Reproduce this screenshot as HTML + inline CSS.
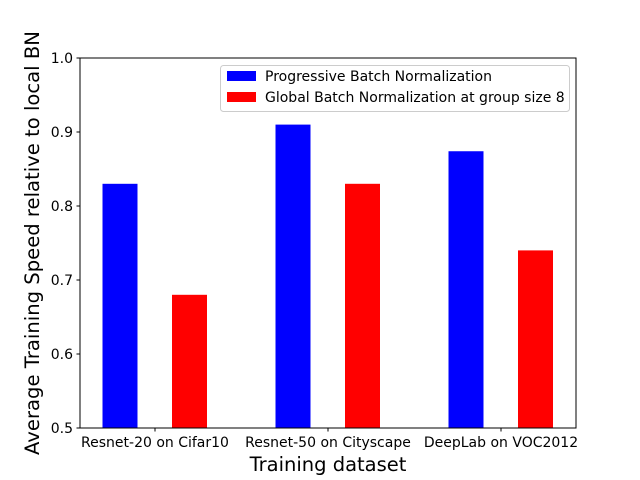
<!DOCTYPE html>
<html><head><meta charset="utf-8"><style>
body{margin:0;background:#fff;}
svg{display:block;font-family:"DejaVu Sans","Liberation Sans",sans-serif;}
</style></head><body>
<svg id="chart" width="640" height="480">
<rect x="0" y="0" width="640" height="480" fill="#fff"/>
<g id="marks"></g>
<rect x="80" y="58" width="496" height="370" fill="none" stroke="#000" stroke-width="1"/>
<g id="axes"></g>
<text x="328" y="471" font-size="19.5" text-anchor="middle">Training dataset</text>
<text transform="translate(39,243) rotate(-90)" font-size="19.6" text-anchor="middle">Average Training Speed relative to local BN</text>
<g>
<rect x="220.5" y="65.5" width="349" height="46" rx="3" fill="#fff" fill-opacity="0.8" stroke="#ccc"/>
<g>
<rect x="227" y="71" width="29" height="10" fill="#0000ff"/>
<text x="265" y="81" font-size="14">Progressive Batch Normalization</text>
</g>
<g>
<rect x="227" y="92" width="29" height="10" fill="#ff0000"/>
<text x="265" y="102" font-size="14">Global Batch Normalization at group size 8</text>
</g>
</g>
</svg>
<script>
const categories = ["Resnet-20 on Cifar10", "Resnet-50 on Cityscape", "DeepLab on VOC2012"];
const progressiveValues = [0.83, 0.91, 0.874];
const globalValues = [0.68, 0.83, 0.74];
const yTicks = [0.5, 0.6, 0.7, 0.8, 0.9, 1.0];
const yTickLabels = ["0.5", "0.6", "0.7", "0.8", "0.9", "1.0"];

const NS = "http://www.w3.org/2000/svg";
function y(v){ return 428 - (v - 0.5) / 0.5 * 370; }
function x(i){ return 155 + 173 * i; }
const barW = 35;
const marks = document.getElementById('marks');
const axes = document.getElementById('axes');
function mk(tag, attrs, parent){
  const el = document.createElementNS(NS, tag);
  for (const k in attrs) el.setAttribute(k, attrs[k]);
  parent.appendChild(el);
  return el;
}
categories.forEach((c, i) => {
  const b = mk('rect', {x: x(i) - 35 - barW/2, y: y(progressiveValues[i]), width: barW, height: 428 - y(progressiveValues[i]), fill: '#0000ff'}, marks);
  
  
  const r = mk('rect', {x: x(i) + 34.5 - barW/2, y: y(globalValues[i]), width: barW, height: 428 - y(globalValues[i]), fill: '#ff0000'}, marks);
  
  
  const t = mk('line', {x1: x(i), x2: x(i), y1: 428, y2: 431.5, stroke: '#000'}, axes);
  
  
  const l = mk('text', {x: x(i), y: 447, 'font-size': 14, 'text-anchor': 'middle'}, axes);
  l.textContent = c;
  
  
});
yTicks.forEach((v, i) => {
  const t = mk('line', {x1: 76.5, x2: 80, y1: y(v), y2: y(v), stroke: '#000'}, axes);
  
  
  const l = mk('text', {x: 73, y: y(v) + 5, 'font-size': 14, 'text-anchor': 'end'}, axes);
  l.textContent = yTickLabels[i];
  
  
});
</script>
</body></html>
